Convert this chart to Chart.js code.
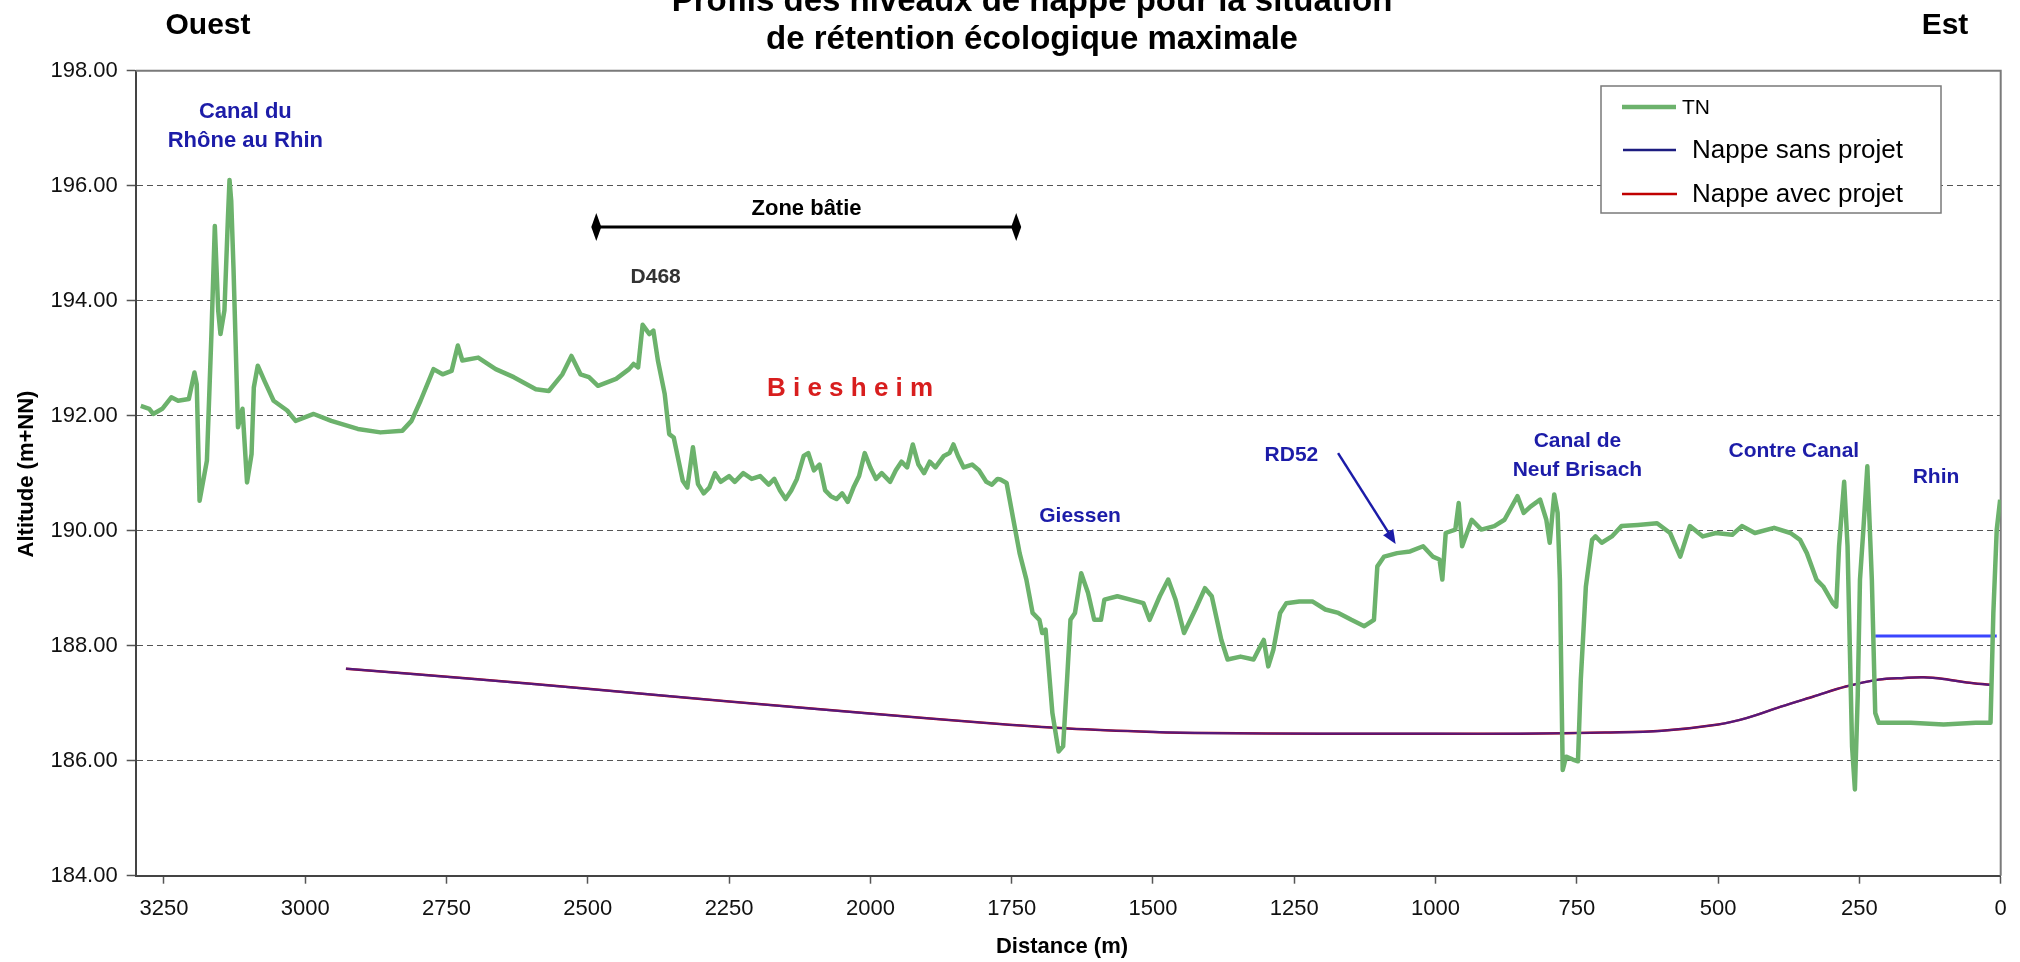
<!DOCTYPE html>
<html>
<head>
<meta charset="utf-8">
<script src="https://cdn.jsdelivr.net/npm/chart.js@4/dist/chart.umd.min.js"></script>
<style>
html,body{margin:0;padding:0;background:#fff;}
#wrap{width:2020px;height:962px;position:relative;}
</style>
</head>
<body>
<div id="wrap"><canvas id="c" width="2020" height="962"></canvas></div>
<script>
// ---- DATA ----
const tnDistance = [3291,3276,3269,3253,3237,3225,3206,3196,3192,3187,3174,3166,3160,3154,3150,3143,3137,3134,3131,3127,3119,3111,3103,3095,3091,3084,3072,3056,3032,3017,2985,2954,2907,2867,2828,2812,2796,2773,2757,2741,2730,2722,2694,2663,2631,2592,2569,2545,2529,2513,2498,2482,2450,2427,2419,2411,2403,2391,2384,2376,2364,2356,2348,2332,2324,2314,2305,
2295,2285,2275,2265,2250,2240,2225,2210,2195,2180,2170,2160,2150,2140,2130,2118,2110,2100,2090,2080,2070,2060,2050,2040,2030,2020,2010,2000,1990,1980,1965,1955,1945,1935,1925,1915,1905,1895,1885,1870,1860,1853,1845,1835,1820,1808,1795,1785,1775,1770,
1759,1747,1736,1724,1713,1701,1696,1690,1678,1667,1659,1652,1646,1638,1627,1615,1604,1592,1586,1563,1540,1517,1506,1488,1473,1460,1445,1425,1408,1396,1379,1368,1345,1322,1310,1304,1296,1287,1275,1264,1241,1218,1195,1172,1149,1126,1109,1103,1091,1068,1045,1022,1005,993,988,982,965,959,953,936,919,896,878,855,844,832,815,804,798,790,784,780,775,769,757,748,743,734,723,717,706,688,671,642,608,585,567,550,527,504,475,458,435,401,372,355,343,326,314,297,291,286,277,271,263,258,253,249,243,236,228,222,216,159,101,44,18,13,7,1];
const tnAltitude = [192.17,192.12,192.03,192.12,192.32,192.26,192.29,192.75,192.55,190.52,191.22,193.42,195.30,193.83,193.42,193.83,195.39,196.10,195.74,194.58,191.80,192.12,190.84,191.33,192.49,192.87,192.60,192.26,192.09,191.91,192.03,191.91,191.77,191.71,191.74,191.91,192.26,192.81,192.72,192.78,193.22,192.96,193.01,192.81,192.67,192.46,192.43,192.72,193.04,192.72,192.67,192.52,192.64,192.81,192.90,192.84,193.58,193.42,193.48,192.96,192.38,191.68,191.62,190.87,190.75,191.45,190.81,
190.65,190.75,191.00,190.85,190.95,190.85,191.00,190.90,190.95,190.80,190.90,190.70,190.55,190.70,190.90,191.30,191.35,191.05,191.15,190.70,190.60,190.55,190.65,190.50,190.75,190.95,191.35,191.10,190.90,191.00,190.85,191.05,191.20,191.10,191.50,191.15,191.00,191.20,191.10,191.30,191.35,191.50,191.30,191.10,191.15,191.05,190.85,190.80,190.90,190.89,
190.83,190.19,189.61,189.15,188.57,188.45,188.22,188.28,186.83,186.16,186.25,187.41,188.45,188.57,189.26,188.92,188.45,188.45,188.80,188.86,188.80,188.74,188.45,188.86,189.15,188.80,188.22,188.63,189.00,188.86,188.10,187.76,187.81,187.76,187.99,188.10,187.64,187.93,188.57,188.74,188.77,188.77,188.63,188.57,188.45,188.34,188.45,189.38,189.55,189.61,189.64,189.73,189.55,189.50,189.15,189.96,190.02,190.48,189.73,190.19,190.02,190.08,190.19,190.60,190.31,190.42,190.54,190.19,189.79,190.63,190.31,189.15,185.84,186.07,186.02,185.99,187.41,189.03,189.84,189.90,189.79,189.90,190.08,190.10,190.13,189.96,189.55,190.08,189.90,189.96,189.93,190.08,189.96,190.05,189.96,189.84,189.61,189.15,189.03,188.74,188.68,189.73,190.85,189.73,186.25,185.50,187.12,189.15,190.02,191.12,189.15,186.83,186.66,186.66,186.63,186.66,186.66,188.57,190.02,190.54];

const nappeSansDistance = [2928,2700,2500,2250,2000,1800,1650,1500,1400,1200,1000,850,700,600,500,450,389,330,274,216,170,136,100,60,18];
const nappeSansAltitude = [187.60,187.42,187.25,187.03,186.82,186.66,186.56,186.50,186.48,186.47,186.47,186.47,186.49,186.52,186.63,186.74,186.94,187.12,187.29,187.41,187.44,187.45,187.42,187.36,187.32];
const nappeAvecDistance = [2928,2700,2500,2250,2000,1800,1650,1500,1400,1200,1000,850,700,600,500,450,389,330,274,216,170,136,100,60,18];
const nappeAvecAltitude = [187.60,187.42,187.25,187.03,186.82,186.66,186.56,186.50,186.48,186.47,186.47,186.47,186.49,186.52,186.63,186.74,186.94,187.12,187.29,187.41,187.44,187.45,187.42,187.36,187.32];
const rhinDistance = [222, 7];
const rhinAltitude = [188.17, 188.17];

const xTickValues = [3250,3000,2750,2500,2250,2000,1750,1500,1250,1000,750,500,250,0];
const yTickValues = [184,186,188,190,192,194,196,198];

const seriesNames = ['TN','Nappe sans projet','Nappe avec projet'];
const titleLines = ['Profils des niveaux de nappe pour la situation','de rétention écologique maximale'];

// annotation texts (label, distance, altitude)
const notes = [
  {t:'Canal du', d:3106, v:197.18, c:'#1c1ca8', s:22},
  {t:'Rhône au Rhin', d:3106, v:196.67, c:'#1c1ca8', s:22},
  {t:'Zone bâtie', d:2113, v:195.49, c:'#000', s:22},
  {t:'D468', d:2380, v:194.31, c:'#333', s:21},
  {t:'B i e s h e i m', d:2036, v:192.34, c:'#d81e1e', s:26},
  {t:'Giessen', d:1629, v:190.15, c:'#1c1ca8', s:21},
  {t:'RD52', d:1255, v:191.21, c:'#1c1ca8', s:21},
  {t:'Canal de', d:749, v:191.45, c:'#1c1ca8', s:21},
  {t:'Neuf Brisach', d:749, v:190.96, c:'#1c1ca8', s:21},
  {t:'Contre Canal', d:366, v:191.28, c:'#1c1ca8', s:21},
  {t:'Rhin', d:114.5, v:190.83, c:'#1c1ca8', s:21}
];
const zoneBatie = {d1:2485, d2:1742, v:195.28};
const rd52Arrow = {d1:1172.5, v1:191.35, d2:1070.6, v2:189.77};

const toXY = (xs, ys) => xs.map((d,i)=>({x:d, y:ys[i]}));
const FONT = '"Liberation Sans", Arial, Helvetica, sans-serif';

const overlay = {
  id:'overlay',
  beforeDatasetsDraw(chart){
    const {ctx, chartArea:ca} = chart;
    ctx.save();
    ctx.strokeStyle = '#7a7a7a'; ctx.lineWidth = 2;
    ctx.beginPath();
    ctx.moveTo(ca.left, ca.top); ctx.lineTo(ca.right, ca.top); ctx.lineTo(ca.right, ca.bottom);
    ctx.stroke();
    ctx.restore();
  },
  afterDraw(chart){
    const {ctx, chartArea:ca, scales:{x, y}} = chart;
    const txt = (s, px, py, font, color, align='center', base='alphabetic') => {
      ctx.font = font; ctx.fillStyle = color; ctx.textAlign = align; ctx.textBaseline = base;
      ctx.fillText(s, px, py);
    };
    ctx.save();
    // titles
    txt(titleLines[0], 1032, 11, 'bold 33px '+FONT, '#000');
    txt(titleLines[1], 1032, 49, 'bold 33px '+FONT, '#000');
    txt('Ouest', 208, 34, 'bold 30px '+FONT, '#000');
    txt('Est', 1945, 34, 'bold 30px '+FONT, '#000');
    // axis titles
    txt('Distance (m)', 1062, 953, 'bold 22px '+FONT, '#000');
    ctx.save(); ctx.translate(33, 474); ctx.rotate(-Math.PI/2);
    txt('Altitude (m+NN)', 0, 0, 'bold 22px '+FONT, '#000');
    ctx.restore();
    // annotations
    notes.forEach(n => txt(n.t, x.getPixelForValue(n.d), y.getPixelForValue(n.v), 'bold '+n.s+'px '+FONT, n.c));
    // zone batie arrow
    const zx1 = x.getPixelForValue(zoneBatie.d1), zx2 = x.getPixelForValue(zoneBatie.d2), zy = y.getPixelForValue(zoneBatie.v);
    ctx.strokeStyle = '#000'; ctx.lineWidth = 3;
    ctx.beginPath(); ctx.moveTo(zx1, zy); ctx.lineTo(zx2, zy); ctx.stroke();
    ctx.fillStyle = '#000';
    [zx1, zx2].forEach(px => {
      ctx.beginPath(); ctx.moveTo(px, zy-14); ctx.lineTo(px+5, zy); ctx.lineTo(px, zy+14); ctx.lineTo(px-5, zy); ctx.closePath(); ctx.fill();
    });
    // RD52 arrow
    const ax1 = x.getPixelForValue(rd52Arrow.d1), ay1 = y.getPixelForValue(rd52Arrow.v1);
    const ax2 = x.getPixelForValue(rd52Arrow.d2), ay2 = y.getPixelForValue(rd52Arrow.v2);
    ctx.strokeStyle = '#1c1ca8'; ctx.fillStyle = '#1c1ca8'; ctx.lineWidth = 2.5;
    const ang = Math.atan2(ay2-ay1, ax2-ax1);
    ctx.beginPath(); ctx.moveTo(ax1, ay1); ctx.lineTo(ax2 - 8*Math.cos(ang), ay2 - 8*Math.sin(ang)); ctx.stroke();
    ctx.beginPath(); ctx.moveTo(ax2, ay2);
    ctx.lineTo(ax2 - 14*Math.cos(ang) + 6*Math.sin(ang), ay2 - 14*Math.sin(ang) - 6*Math.cos(ang));
    ctx.lineTo(ax2 - 14*Math.cos(ang) - 6*Math.sin(ang), ay2 - 14*Math.sin(ang) + 6*Math.cos(ang));
    ctx.closePath(); ctx.fill();
    // legend
    ctx.fillStyle = '#fff'; ctx.fillRect(1601, 86, 340, 127);
    ctx.strokeStyle = '#7a7a7a'; ctx.lineWidth = 1.5; ctx.strokeRect(1601, 86, 340, 127);
    const ds = chart.data.datasets;
    const legendRows = [
      {i:0, y:107, x1:1622, x2:1676, tx:1682, size:21},
      {i:1, y:150, x1:1623, x2:1676, tx:1692, size:26},
      {i:2, y:194, x1:1622, x2:1677, tx:1692, size:26}
    ];
    legendRows.forEach(r => {
      const d = ds[r.i];
      ctx.strokeStyle = d.legendColor || d.borderColor; ctx.lineWidth = d.legendWidth || d.borderWidth;
      ctx.beginPath(); ctx.moveTo(r.x1, r.y); ctx.lineTo(r.x2, r.y); ctx.stroke();
      txt(d.label, r.tx, r.y+1, r.size+'px '+FONT, '#000', 'left', 'middle');
    });
    ctx.restore();
  }
};

new Chart(document.getElementById('c'), {
  type:'line',
  data:{
    datasets:[
      {label:seriesNames[0], data:toXY(tnDistance, tnAltitude), borderColor:'#6cb26c', borderWidth:4.5, pointRadius:0, tension:0, order:0, borderJoinStyle:'round'},
      {label:seriesNames[1], data:toXY(nappeSansDistance, nappeSansAltitude), borderColor:'rgba(45,35,170,0.72)', legendColor:'#1c1c80', legendWidth:2.5, borderWidth:2.2, pointRadius:0, tension:0.35, order:2},
      {label:seriesNames[2], data:toXY(nappeAvecDistance, nappeAvecAltitude), borderColor:'#c00000', borderWidth:2.5, pointRadius:0, tension:0.35, order:3},
      {label:'Rhin', data:toXY(rhinDistance, rhinAltitude), borderColor:'#3a46ff', borderWidth:3, pointRadius:0, order:1}
    ]
  },
  options:{
    responsive:false, animation:false, events:[],
    layout:{padding:{left:0, right:19.3, top:70.7, bottom:0}},
    plugins:{legend:{display:false}, tooltip:{enabled:false}, title:{display:false}},
    scales:{
      x:{
        type:'linear', reverse:true, min:0, max:3300,
        afterBuildTicks: s => { s.ticks = xTickValues.map(v => ({value:v})); },
        afterFit: s => { s.height = 962 - 875.7; },
        grid:{drawOnChartArea:false, drawTicks:true, tickLength:8, tickColor:'#555', tickWidth:1.5},
        border:{display:true, color:'#444', width:2},
        ticks:{font:{family:FONT, size:22}, color:'#111', padding:12, maxRotation:0, autoSkip:false, callback: v => String(v)}
      },
      y:{
        type:'linear', min:184, max:198,
        afterBuildTicks: s => { s.ticks = yTickValues.map(v => ({value:v})); },
        afterFit: s => { s.width = 135.7; },
        grid:{color:'#555', lineWidth:1, drawTicks:true, tickLength:9, tickColor:'#555', tickWidth:1.5},
        border:{display:true, color:'#444', width:2, dash:[6,4]},
        ticks:{font:{family:FONT, size:22}, color:'#111', padding:9, callback: v => Number(v).toFixed(2)}
      }
    }
  },
  plugins:[overlay]
});
</script>
</body>
</html>
